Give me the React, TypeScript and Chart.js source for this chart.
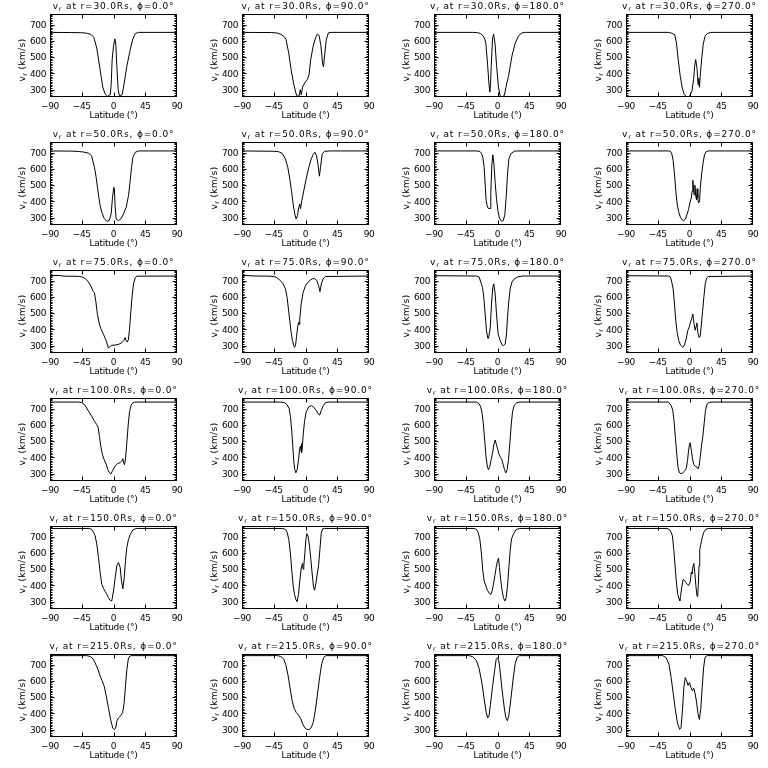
import React, { useEffect, useRef } from "react";
import { Chart, registerables } from "chart.js";

Chart.register(...registerables);

// ---- axes / labels ----
const radii = [30, 50, 75, 100, 150, 215];
const phis = [0, 90, 180, 270];
const xTicks = [-90, -45, 0, 45, 90];
const yTicks = [300, 400, 500, 600, 700];
const xMin = -90;
const xMax = 90;
const yMin = 255;
const yMax = 765;
const xTitle = "Latitude (°)";

// ---- series: [latitude (deg), v_r (km/s)] ----
const r30_phi0: [number, number][] = [[-90,652],[-60,651],[-45,650],[-38,647],[-32,640],[-28,622],[-23.7,556],[-20.4,464],[-17.5,382],[-15.2,316],[-11.8,273],[-8.5,259],[-4.7,269],[-3.3,331],[-1.9,485],[0,567],[1.9,612],[3.3,577],[4.7,444],[6.6,300],[8.5,259],[12.3,269],[15.2,341],[18.9,444],[23.7,546],[27.5,612],[30.8,645],[35.5,652],[90,652]];
const r30_phi90: [number, number][] = [[-90,652],[-48,651],[-40,648],[-34.8,640],[-30,625],[-27.6,608],[-23.8,526],[-20.4,423],[-17,341],[-13.7,280],[-11.8,259],[-8.9,263],[-7.4,300],[-6,269],[-4.1,316],[-1.2,341],[2.6,362],[5,392],[7.4,485],[10.8,567],[14.2,618],[17,643],[19.4,631],[21.8,570],[24.2,464],[25.5,440],[27.2,516],[29.5,608],[32.4,649],[36.2,652],[90,652]];
const r30_phi180: [number, number][] = [[-90,652],[-35,652],[-28,650],[-24,645],[-20.4,630],[-18,610],[-16.6,587],[-14.2,464],[-12.2,341],[-10.8,285],[-9.8,340],[-8.9,444],[-7,618],[-5.5,640],[-3.6,587],[-1.2,444],[1.2,321],[3.6,263],[6,255],[9.8,265],[13.2,341],[15.6,382],[20.4,505],[25.2,587],[30,632],[34.8,649],[39.6,652],[90,652]];
const r30_phi270: [number, number][] = [[-90,652],[-30,652],[-25.8,648],[-20.9,638],[-18.5,587],[-16,485],[-13.1,382],[-10.2,310],[-7.3,269],[-3.4,255],[0,259],[3.4,290],[5.8,362],[7.3,444],[8.8,485],[10.7,430],[12.2,330],[13.1,370],[14.1,315],[15.5,400],[17.5,500],[19.5,580],[22,628],[25.3,645],[30.2,652],[90,652]];

const r50_phi0: [number, number][] = [[-90,710],[-60,709],[-50,707],[-42,703],[-35,696],[-31,680],[-29.4,652],[-27,610],[-24.6,548],[-22.7,487],[-20.8,425],[-18.9,374],[-16.6,333],[-13.3,296],[-9.5,278],[-6.2,282],[-3.3,323],[-1.4,425],[0.5,487],[1.2,478],[2.4,364],[3.8,292],[7.1,282],[10.4,292],[14.2,323],[18,364],[21.3,436],[23.7,528],[25.6,610],[27.5,671],[30.8,702],[35.5,710],[90,710]];
const r50_phi90: [number, number][] = [[-90,710],[-45,708],[-38,705],[-33.2,696],[-28.4,661],[-25.1,610],[-22.3,538],[-19.9,466],[-17.5,384],[-15.2,323],[-13.3,292],[-11.4,312],[-9.5,364],[-8.1,384],[-7.1,355],[-5.2,405],[-2.4,466],[0.9,538],[4.7,610],[8.1,661],[10.9,688],[13.3,702],[15.6,682],[18,620],[19.7,555],[21.3,610],[23.7,692],[27,708],[35.5,710],[90,710]];
const r50_phi180: [number, number][] = [[-90,710],[-30,710],[-25,707],[-22.7,696],[-20.8,671],[-18.9,610],[-17.5,507],[-16.1,405],[-14.7,374],[-13.3,358],[-10.4,356],[-9.5,450],[-8.1,620],[-6.6,686],[-5.2,636],[-3.3,516],[-1.4,416],[0.5,346],[2.8,296],[5.7,278],[8.1,282],[10.4,318],[12.3,425],[14.2,569],[16.1,661],[18.9,692],[23.7,708],[28,710],[90,710]];
const r50_phi270: [number, number][] = [[-90,710],[-30,710],[-27,708],[-25.1,692],[-23.2,651],[-21.3,569],[-19.4,466],[-17.5,384],[-15.2,333],[-12.8,302],[-10.4,286],[-8.1,282],[-5.7,292],[-3.3,323],[-1.4,350],[0.5,390],[2.4,420],[3.8,465],[4.7,530],[5.7,470],[6.6,440],[7.6,500],[9,430],[9.9,410],[10.9,478],[11.8,420],[12.8,390],[14.2,400],[15.6,500],[17.5,578],[19.4,641],[21.3,686],[23.7,706],[27,710],[90,710]];

const r75_phi0: [number, number][] = [[-90,732],[-75,731],[-70,727],[-50,726],[-44,722],[-40,712],[-36,695],[-32,665],[-29,635],[-27,625],[-25,570],[-22.7,490],[-20.4,440],[-18,405],[-14.2,370],[-10.4,330],[-7.1,285],[-4.7,296],[-2.4,302],[2.4,304],[7.1,308],[11.8,318],[14.2,330],[16.6,350],[18,330],[19.4,322],[21,335],[22.7,400],[24.6,510],[26.5,610],[28.4,680],[30.8,718],[33.2,727],[90,728]];
const r75_phi90: [number, number][] = [[-90,732],[-70,728],[-50,727],[-42,722],[-35.5,700],[-31.7,680],[-28.4,649],[-26.1,597],[-24.2,526],[-22.3,454],[-20.4,382],[-18.5,331],[-16.6,300],[-15.6,290],[-14.2,300],[-12.8,351],[-10.9,423],[-9.5,444],[-8.9,430],[-8.1,464],[-6.2,556],[-3.3,628],[0,669],[3.3,690],[7.1,704],[10.4,712],[13,712],[16,700],[18.5,670],[20.5,632],[22.5,680],[25,710],[28,725],[90,728]];
const r75_phi180: [number, number][] = [[-90,730],[-30,728],[-26,722],[-23.7,690],[-21.3,659],[-19.4,597],[-17.5,495],[-15.6,392],[-13.7,345],[-12.8,345],[-10.4,403],[-8.5,556],[-6.6,659],[-5.2,680],[-3.3,618],[-1.4,495],[0.9,372],[3.8,331],[6.6,304],[8.5,300],[10.9,310],[12.8,372],[14.2,474],[16.1,577],[18,649],[20.4,690],[23.7,710],[28.4,722],[35,728],[90,728]];
const r75_phi270: [number, number][] = [[-90,730],[-30,728],[-27,722],[-25.1,690],[-23.2,649],[-21.3,556],[-19.4,454],[-17.5,382],[-15.2,331],[-12.8,304],[-9.5,290],[-7.1,304],[-4.7,341],[-2.4,392],[0,420],[1.4,445],[3.3,470],[4.7,495],[6.6,430],[8.1,395],[9.5,420],[10.4,440],[11.8,380],[13.7,350],[15.2,360],[16.6,420],[18.5,510],[20.4,600],[22.3,680],[24.2,715],[27,725],[90,728]];

const r100_phi0: [number, number][] = [[-90,740],[-50,740],[-45,737],[-40.3,720],[-35.5,685],[-30.8,652],[-27,622],[-23.7,602],[-21.8,585],[-19.9,528],[-18,467],[-15.6,416],[-13.3,386],[-10.4,359],[-8.1,325],[-5.7,305],[-3.8,298],[-0.9,322],[2.4,348],[5.7,362],[9.5,368],[11.8,378],[13.3,392],[14.2,371],[15.6,355],[17,392],[18.9,487],[20.8,599],[22.7,680],[25.1,722],[27.5,736],[30,740],[90,740]];
const r100_phi90: [number, number][] = [[-90,740],[-35,740],[-30,737],[-26.1,724],[-23.2,700],[-21.3,650],[-19.4,558],[-18,467],[-16.6,376],[-15.2,325],[-13.7,305],[-11.8,325],[-9.9,386],[-8.1,457],[-7.1,470],[-6.3,440],[-5.8,485],[-5.2,430],[-4.2,480],[-3.3,538],[-1.4,619],[0.9,680],[4.7,710],[8.5,718],[11.8,708],[15.6,686],[18.9,663],[20,660],[22.3,688],[25.1,718],[28.4,736],[32,740],[90,740]];
const r100_phi180: [number, number][] = [[-90,740],[-30,740],[-26.1,730],[-23.7,710],[-21.8,670],[-19.9,599],[-18,497],[-16.1,396],[-14.2,339],[-12.8,325],[-10.9,345],[-9,386],[-7.1,426],[-5.2,477],[-3.3,507],[-1.4,477],[0.5,446],[2.4,416],[4.3,400],[6.2,386],[8.1,355],[9.9,325],[11.8,305],[13.7,325],[15.6,386],[17.5,487],[19.4,599],[21.3,680],[23.7,720],[27.5,736],[32,740],[90,740]];
const r100_phi270: [number, number][] = [[-90,740],[-30,740],[-26.1,720],[-23.7,690],[-21.8,619],[-19.9,517],[-18,416],[-16.1,335],[-14.2,305],[-11.8,300],[-9.5,305],[-7.1,315],[-4.7,330],[-2.8,380],[-1.4,440],[0,480],[0.9,490],[2.4,450],[4.3,390],[6.2,355],[8.1,345],[9.5,345],[10.9,335],[12.3,330],[13.7,350],[15.2,400],[17,470],[18.9,530],[20.8,610],[22.7,690],[25.1,730],[27.9,738],[32,740],[90,740]];

const r150_phi0: [number, number][] = [[-90,750],[-35,750],[-31,745],[-28.4,727],[-26.1,706],[-23.7,655],[-21.3,572],[-18.9,479],[-16.6,407],[-14.2,382],[-11.8,362],[-9.5,345],[-7.1,324],[-4.7,308],[-2.4,305],[0,366],[2.4,448],[4.7,521],[7.1,540],[9.5,510],[11.3,428],[13.3,380],[15.2,448],[17,552],[18.9,634],[21.3,683],[23.7,714],[27.5,741],[32.2,750],[90,750]];
const r150_phi90: [number, number][] = [[-90,750],[-32,750],[-28,742],[-26.1,727],[-23.7,683],[-21.3,593],[-19.4,490],[-17.5,397],[-15.6,345],[-13.7,314],[-11.8,300],[-9.9,345],[-8.1,428],[-6.2,500],[-4.3,535],[-3.3,500],[-2.4,520],[-0.9,600],[0.5,680],[1.9,718],[3.8,700],[5.7,640],[7.6,560],[9.5,470],[11.4,390],[12.8,370],[14.7,410],[16.6,470],[18.5,520],[20.4,620],[22.3,720],[24.2,748],[27,750],[90,750]];
const r150_phi180: [number, number][] = [[-90,750],[-33,750],[-30,745],[-27.5,727],[-25.1,686],[-22.7,593],[-20.8,490],[-18.9,428],[-16.6,397],[-14.2,370],[-11.4,350],[-9.5,345],[-7.6,366],[-5.7,407],[-3.8,459],[-1.9,510],[0,552],[1.4,568],[2.8,510],[4.7,428],[6.6,366],[8.5,324],[10.4,304],[12.3,324],[14.2,397],[16.1,510],[18,614],[19.9,686],[22.7,717],[26.1,741],[30.8,750],[90,750]];
const r150_phi270: [number, number][] = [[-90,750],[-32,750],[-28,742],[-26.1,727],[-24.2,704],[-22.3,621],[-20.4,518],[-18.5,415],[-16.6,343],[-14.7,316],[-13.7,305],[-12.8,331],[-10.9,390],[-9,436],[-7,431],[-5,418],[-3,405],[-1,400],[1,420],[2.5,480],[3.5,470],[5,520],[6,535],[7.5,480],[9,400],[10.5,340],[11.5,330],[12.5,400],[13.5,520],[14.5,620],[16,650],[18,693],[20,725],[23,745],[27,750],[90,750]];

const r215_phi0: [number, number][] = [[-90,755],[-38,755],[-33,750],[-29,735],[-26,710],[-22,670],[-19,630],[-16,600],[-13,565],[-10,500],[-7,430],[-4,360],[-1,310],[1,300],[3,310],[5,355],[7,372],[9,380],[11,392],[13,405],[15,460],[17,570],[19,670],[21,735],[23,752],[26,755],[90,755]];
const r215_phi90: [number, number][] = [[-90,755],[-40,755],[-35,750],[-31,735],[-28,700],[-25,640],[-22,560],[-19,480],[-16,430],[-13,405],[-10,390],[-7,370],[-4,335],[-1,312],[2,302],[5,300],[8,312],[11,345],[14,420],[17,520],[20,620],[23,705],[26,745],[29,755],[90,755]];
const r215_phi180: [number, number][] = [[-90,755],[-40,755],[-35,748],[-30,725],[-26,675],[-22,585],[-19,490],[-16,405],[-14,372],[-12,385],[-10,455],[-7,565],[-4,665],[-2,730],[0,742],[2,722],[4,645],[7,525],[10,420],[12,372],[14,355],[16,385],[19,490],[22,605],[25,705],[28,746],[31,755],[90,755]];
const r215_phi270: [number, number][] = [[-90,755],[-38,755],[-33,742],[-29,700],[-26,620],[-23,520],[-20,420],[-17,340],[-14,302],[-12,312],[-10,420],[-8,560],[-6,620],[-4,600],[-2,572],[0,590],[2,560],[4,540],[6,555],[8,520],[10,470],[12,400],[14,362],[16,430],[18,560],[20,680],[22,745],[25,755],[90,755]];

const panelSeries = [
  [r30_phi0, r30_phi90, r30_phi180, r30_phi270],
  [r50_phi0, r50_phi90, r50_phi180, r50_phi270],
  [r75_phi0, r75_phi90, r75_phi180, r75_phi270],
  [r100_phi0, r100_phi90, r100_phi180, r100_phi270],
  [r150_phi0, r150_phi90, r150_phi180, r150_phi270],
  [r215_phi0, r215_phi90, r215_phi180, r215_phi270],
];

// ---- layout ----
const PANEL_W = 192;
const PANEL_H = 128;
const FONT = '"DejaVu Sans", sans-serif';

type Part = { t: string; sub?: boolean };

function drawParts(ctx: CanvasRenderingContext2D, parts: Part[], x: number, y: number, size: number, spacing: number) {
  // x is the horizontal centre, y the baseline
  const widths = parts.map((p) => {
    ctx.font = `${p.sub ? size * 0.7 : size}px ${FONT}`;
    ctx.letterSpacing = `${spacing}px`;
    return ctx.measureText(p.t).width;
  });
  const total = widths.reduce((a, b) => a + b, 0);
  let cx = x - total / 2;
  ctx.textAlign = "left";
  ctx.textBaseline = "alphabetic";
  parts.forEach((p, i) => {
    ctx.font = `${p.sub ? size * 0.7 : size}px ${FONT}`;
    ctx.letterSpacing = `${spacing}px`;
    ctx.fillText(p.t, cx, p.sub ? y + 2 : y);
    cx += widths[i];
  });
}

function fmtTick(v: number) {
  return v < 0 ? "\u2212" + Math.abs(v) : String(v);
}

const framePlugin = {
  id: "idlFrame",
  afterDraw(chart: any, _args: any, opts: any) {
    const { ctx, chartArea: a, scales } = chart;
    const xs = scales.x;
    const ys = scales.y;
    ctx.save();
    ctx.strokeStyle = "#000";
    ctx.fillStyle = "#000";
    ctx.lineWidth = 1;
    const L = Math.round(a.left) + 0.5;
    const R = Math.round(a.right) - 0.5;
    const T = Math.round(a.top) + 0.5;
    const B = Math.round(a.bottom) - 0.5;
    ctx.strokeRect(L, T, R - L, B - T);
    ctx.beginPath();
    for (const v of xTicks) {
      if (v === xMin || v === xMax) continue;
      const p = Math.round(xs.getPixelForValue(v)) + 0.5;
      ctx.moveTo(p, B);
      ctx.lineTo(p, B - 4);
      ctx.moveTo(p, T);
      ctx.lineTo(p, T + 4);
    }
    for (let v = Math.ceil(yMin / 10) * 10; v <= yMax; v += 10) {
      const len = v % 100 === 0 ? 4 : 2;
      const p = Math.round(ys.getPixelForValue(v)) + 0.5;
      ctx.moveTo(L, p);
      ctx.lineTo(L + len, p);
      ctx.moveTo(R, p);
      ctx.lineTo(R - len, p);
    }
    ctx.stroke();

    // tick labels
    ctx.font = `9px ${FONT}`;
    ctx.letterSpacing = "-0.4px";
    ctx.textBaseline = "alphabetic";
    ctx.textAlign = "center";
    for (const v of xTicks) {
      ctx.fillText(fmtTick(v), xs.getPixelForValue(v), B + 12);
    }
    ctx.textAlign = "right";
    for (const v of yTicks) {
      ctx.fillText(fmtTick(v), L - 4.5, ys.getPixelForValue(v) + 3.3);
    }

    // x title
    ctx.letterSpacing = "-0.3px";
    ctx.textAlign = "center";
    ctx.fillText(xTitle, (a.left + a.right) / 2, 118);

    // main title
    const cxm = (a.left + a.right) / 2;
    drawParts(
      ctx,
      [
        { t: "v" },
        { t: "r", sub: true },
        { t: ` at r=${opts.r.toFixed(1)}Rs, ` },
        { t: "\u03d5" },
        { t: `=${opts.phi.toFixed(1)}°` },
      ],
      cxm,
      9,
      9,
      0.85
    );

    // y title (rotated)
    ctx.save();
    ctx.translate(25, 60);
    ctx.rotate(-Math.PI / 2);
    drawParts(ctx, [{ t: "v" }, { t: "r", sub: true }, { t: " (km/s)" }], 0, 0, 9, 0.4);
    ctx.restore();

    ctx.restore();
  },
};

function Panel({ r, phi, series }: { r: number; phi: number; series: [number, number][] }) {
  const ref = useRef<HTMLCanvasElement | null>(null);
  useEffect(() => {
    if (!ref.current) return;
    const chart = new Chart(ref.current, {
      type: "line",
      data: {
        datasets: [
          {
            data: series.map(([x, y]) => ({ x, y })),
            borderColor: "#000",
            borderWidth: 1,
            pointRadius: 0,
            fill: false,
            tension: 0,
          },
        ],
      },
      options: {
        responsive: false,
        animation: false,
        devicePixelRatio: 1,
        events: [],
        layout: { padding: { left: 0, top: 14, right: 15, bottom: 0 } },
        plugins: {
          legend: { display: false },
          tooltip: { enabled: false },
          title: { display: false },
          idlFrame: { r, phi },
        } as any,
        scales: {
          x: {
            type: "linear",
            min: xMin,
            max: xMax,
            ticks: { display: false },
            grid: { display: false, drawTicks: false },
            border: { display: false },
            afterFit: (s: any) => {
              s.height = 31;
              s.paddingLeft = 0;
              s.paddingRight = 0;
              s.paddingTop = 0;
              s.paddingBottom = 0;
            },
          },
          y: {
            type: "linear",
            min: yMin,
            max: yMax,
            ticks: { display: false },
            grid: { display: false, drawTicks: false },
            border: { display: false },
            afterFit: (s: any) => {
              s.width = 50;
              s.paddingLeft = 0;
              s.paddingRight = 0;
              s.paddingTop = 0;
              s.paddingBottom = 0;
            },
          },
        },
      } as any,
      plugins: [framePlugin as any],
    });
    return () => chart.destroy();
  }, [r, phi, series]);
  return <canvas ref={ref} width={PANEL_W} height={PANEL_H} style={{ display: "block" }} />;
}

export default function App() {
  return (
    <div style={{ position: "absolute", left: 0, top: 0, width: 768, height: 768, background: "#fff" }}>
      {radii.map((r, i) =>
        phis.map((phi, j) => (
          <div
            key={`${r}-${phi}`}
            style={{ position: "absolute", left: j * PANEL_W, top: i * PANEL_H, width: PANEL_W, height: PANEL_H }}
          >
            <Panel r={r} phi={phi} series={panelSeries[i][j]} />
          </div>
        ))
      )}
    </div>
  );
}
